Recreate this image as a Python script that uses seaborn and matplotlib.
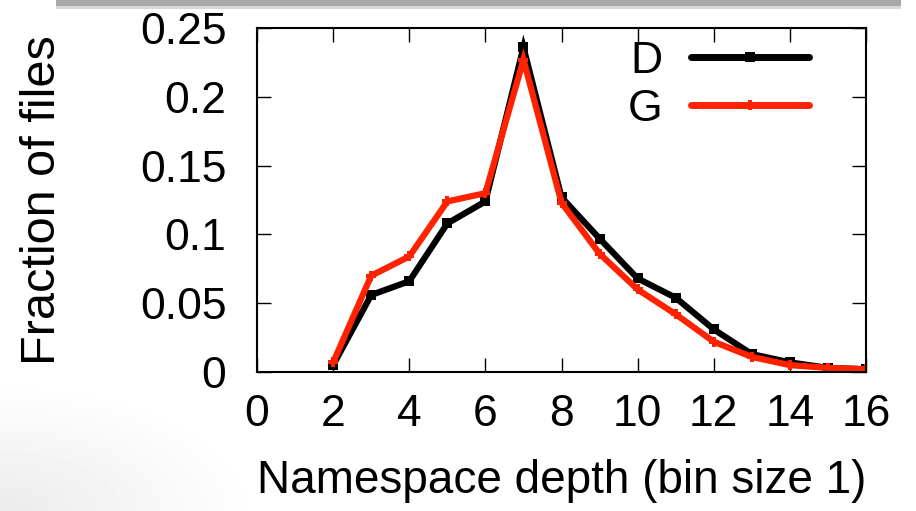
import pandas as pd
import numpy as np
import seaborn as sns
import matplotlib
matplotlib.use('Agg')
import matplotlib.pyplot as plt
from matplotlib.patches import Rectangle

# Values
depth = [2, 3, 4, 5, 6, 7, 8, 9, 10, 11, 12, 13, 14, 15, 16]
frac_d = [0.005, 0.056, 0.066, 0.108, 0.124, 0.236, 0.127, 0.097, 0.068, 0.054, 0.031, 0.013, 0.007, 0.003, 0.002]
frac_g = [0.007, 0.070, 0.084, 0.124, 0.130, 0.227, 0.123, 0.086, 0.060, 0.042, 0.022, 0.011, 0.005, 0.003, 0.002]
series_names = ['D', 'G']
series_colors = ['#000000', '#ff2200']
x_ticks = [0, 2, 4, 6, 8, 10, 12, 14, 16]
y_ticks = [0, 0.05, 0.1, 0.15, 0.2, 0.25]
y_tick_labels = ['0', '0.05', '0.1', '0.15', '0.2', '0.25']

df = pd.DataFrame({
    'depth': depth * 2,
    'frac': frac_d + frac_g,
    'series': [series_names[0]] * len(depth) + [series_names[1]] * len(depth),
})

sns.set_style('ticks')
plt.rcParams['font.family'] = ['Liberation Sans', 'DejaVu Sans']
plt.rcParams['text.color'] = 'black'
plt.rcParams['xtick.color'] = 'black'
plt.rcParams['ytick.color'] = 'black'
plt.rcParams['axes.labelcolor'] = 'black'
plt.rcParams['axes.edgecolor'] = 'black'

fs = 32

fig = plt.figure(figsize=(9.16, 5.11), dpi=100)

# faint gray shading at the lower left of the slide
bg = fig.add_axes([0, 0, 1, 1], zorder=-5)
yy, xx = np.mgrid[0:511, 0:916]
dist = np.sqrt(((xx - 0) / 260.0) ** 2 + ((yy - 511) / 130.0) ** 2)
shade = np.clip(1 - dist, 0, 1) * 0.08
bg.imshow(1 - shade, cmap='gray', vmin=0, vmax=1, aspect='auto')
bg.axis('off')
bg.add_patch(Rectangle((55, -1), 845, 6, facecolor='#a8a8a8', edgecolor='none'))
bg.add_patch(Rectangle((55, 5), 845, 3, facecolor='#d8d8d8', edgecolor='none'))

ax = fig.add_axes([0.2806, 0.272, 0.6648, 0.673])
ax.patch.set_alpha(0)

sns.lineplot(data=df, x='depth', y='frac', hue='series', style='series',
             palette=dict(zip(series_names, series_colors)),
             markers={'D': 's', 'G': 'P'}, dashes=False,
             linewidth=4.5, markersize=7, markeredgewidth=0, ax=ax)
for ln in ax.lines:
    ln.set_solid_joinstyle('miter')

ax.set_xlim(0, 16)
ax.set_ylim(0, 0.25)
ax.set_xticks(x_ticks)
ax.set_xticklabels([str(t) for t in x_ticks])
ax.set_yticks(y_ticks)
ax.set_yticklabels(y_tick_labels)
ax.tick_params(direction='in', length=10, width=1, top=True, right=True,
               labelsize=fs)
ax.tick_params(axis='x', pad=16)
ax.tick_params(axis='y', pad=22)
for s in ax.spines.values():
    s.set_linewidth(1.5)

ax.set_xlabel('Namespace depth (bin size 1)', fontsize=33, labelpad=17)
ax.set_ylabel('Fraction of files', fontsize=35, labelpad=54)

leg = ax.legend(loc='upper right', frameon=False, fontsize=fs, markerfirst=False,
                handlelength=2.65, handletextpad=0.65, labelspacing=0.15,
                borderpad=0, borderaxespad=0,
                bbox_to_anchor=(809 / 916, 1 - 41 / 511),
                bbox_transform=fig.transFigure)
for h in leg.legend_handles:
    h.set_linewidth(5)

fig.savefig('out.png', dpi=100)
